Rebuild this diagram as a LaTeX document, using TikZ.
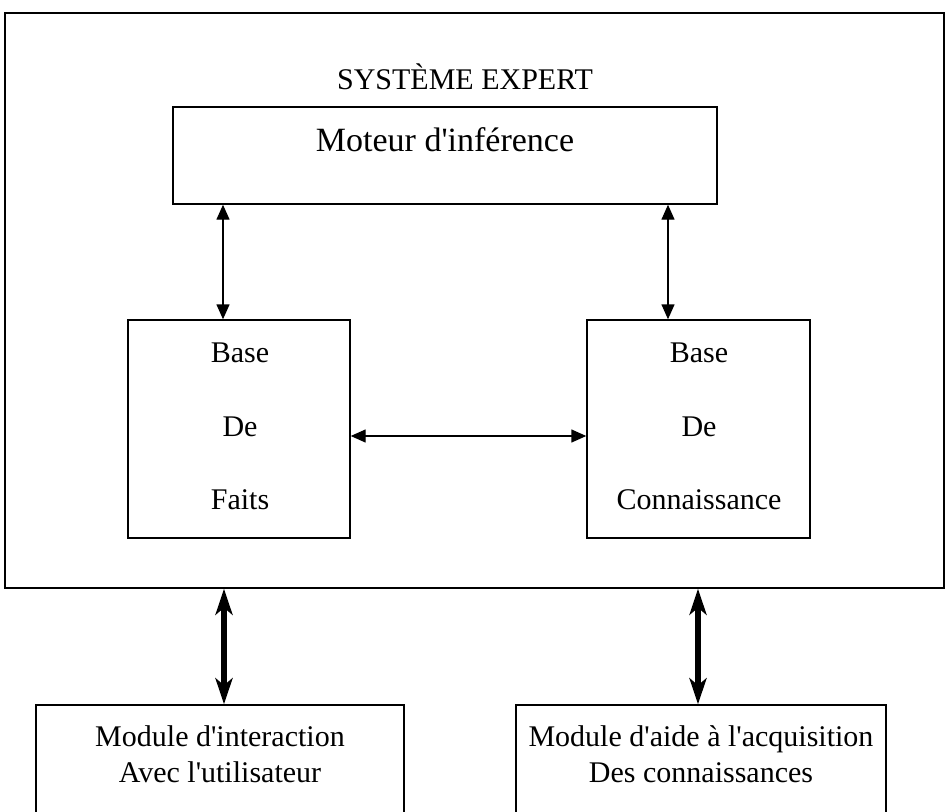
\documentclass[tikz,border=0pt]{standalone}
\usepackage{fontspec}
\setmainfont{Liberation Serif}
\usetikzlibrary{arrows.meta}
\newcommand{\q}{\textquotesingle}
\begin{document}
\begin{tikzpicture}[x=1pt,y=1pt,
  box/.style={draw,line width=1.4pt,inner sep=0pt},
  lbl/.style={font=\fontsize{30}{36}\selectfont,anchor=base,inner sep=0pt},
  biglbl/.style={font=\fontsize{34}{40}\selectfont,anchor=base,inner sep=0pt},
  thinarr/.style={line width=1.4pt,{Triangle[length=15pt,width=13pt]}-{Triangle[length=15pt,width=13pt]}},
  thickarr/.style={line width=6pt,{Stealth[length=26pt,width=17pt,inset=7pt]}-{Stealth[length=26pt,width=17pt,inset=7pt]}}]
\clip (0,0) rectangle (947,-811);
\fill[white] (0,0) rectangle (947,-811);
% outer system box
\node[box,minimum width=939,minimum height=575] (se) at (474.5,-300.5) {};
\node[lbl] (title) at (465,-89) {SYSTÈME EXPERT};
\node[box,minimum width=544,minimum height=97] (mot) at (445,-155.5) {};
\node[biglbl] (motl) at (445,-151) {Moteur d\q inférence};
\node[box,minimum width=222,minimum height=218] (bdf) at (239,-429) {};
\node[box,minimum width=223,minimum height=218] (bdc) at (698.5,-429) {};
\node[lbl] (bdf1) at (240,-362) {Base};
\node[lbl] (bdf2) at (240,-436) {De};
\node[lbl] (bdf3) at (240,-509) {Faits};
\node[lbl] (bdc1) at (699,-362) {Base};
\node[lbl] (bdc2) at (699,-436) {De};
\node[lbl] (bdc3) at (699,-509) {Connaissance};
% bottom modules (cut by the page edge)
\node[box,minimum width=368,minimum height=140] (mi) at (220,-775) {};
\node[box,minimum width=370,minimum height=140] (ma) at (701,-775) {};
\node[lbl] (mi1) at (220,-746) {Module d\q interaction};
\node[lbl] (mi2) at (220,-782) {Avec l\q utilisateur};
\node[lbl] (ma1) at (701,-746) {Module d\q aide à l\q acquisition};
\node[lbl] (ma2) at (701,-782) {Des connaissances};
% connector positions
\coordinate (xa) at (223,0);
\coordinate (xb) at (668,0);
\coordinate (xc) at (224,0);
\coordinate (xd) at (698,0);
\coordinate (yh) at (0,-436);
\draw[thinarr] (mot.south -| xa) -- (bdf.north -| xa);
\draw[thinarr] (mot.south -| xb) -- (bdc.north -| xb);
\draw[thinarr] (bdf.east |- yh) -- (bdc.west |- yh);
\draw[thickarr] (se.south -| xc) -- (mi.north -| xc);
\draw[thickarr] (se.south -| xd) -- (ma.north -| xd);
\end{tikzpicture}
\end{document}
